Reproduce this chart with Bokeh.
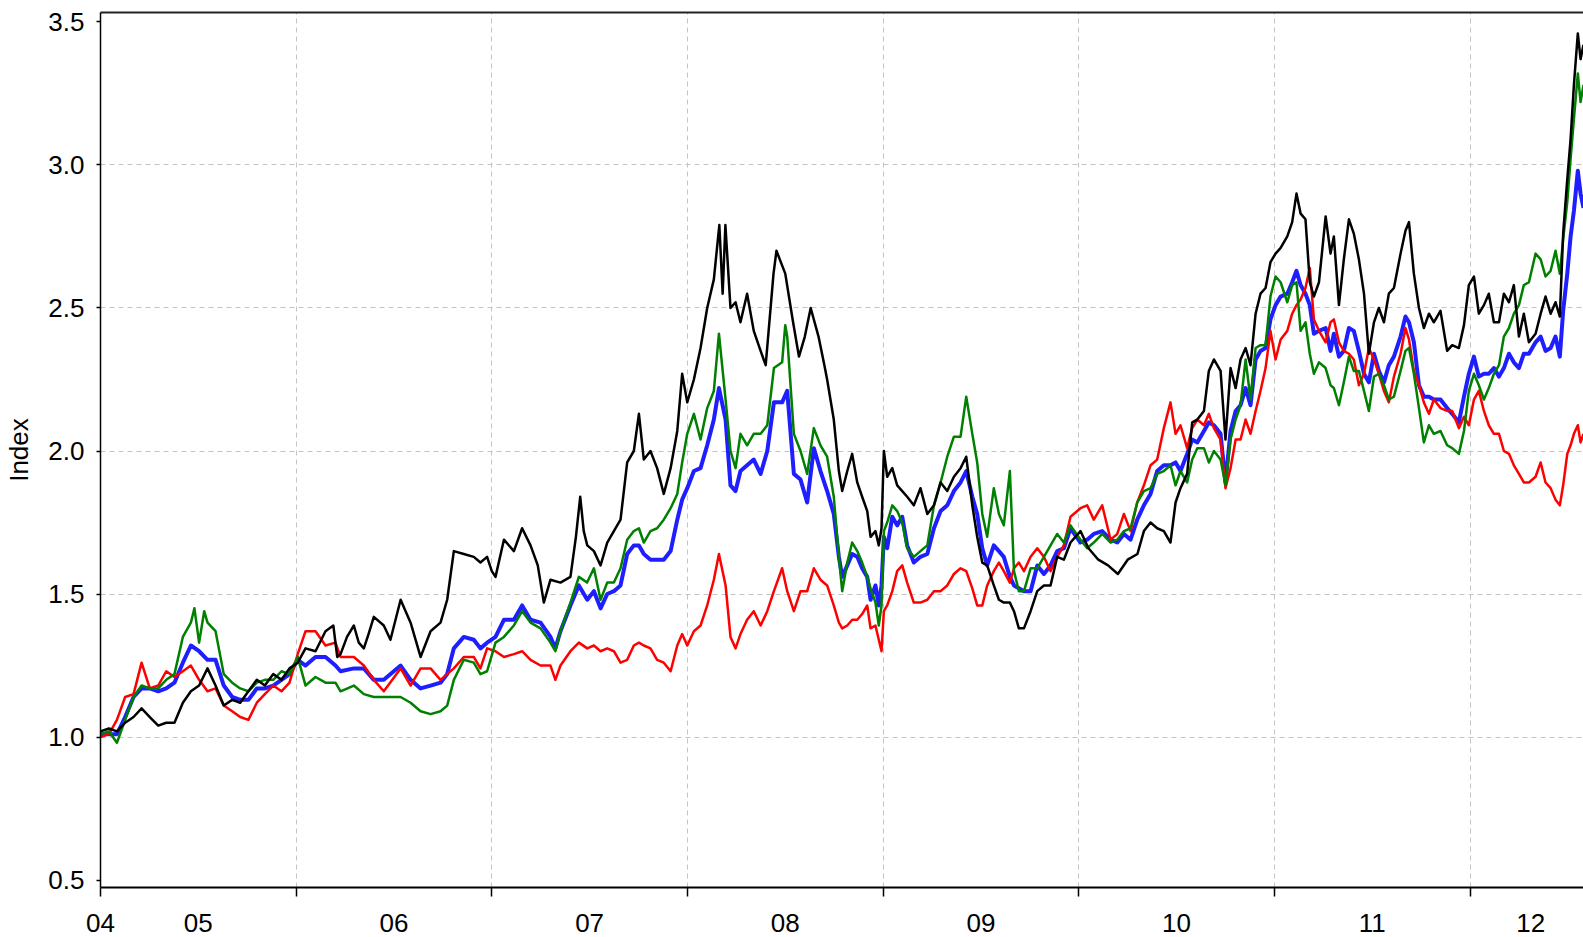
from bokeh.plotting import figure
from bokeh.models import FixedTicker, LinearAxis, Range1d
from bokeh.embed import file_html
from bokeh.resources import INLINE

# ---- axis definitions ----
year_starts = [2005, 2006, 2007, 2008, 2009, 2010, 2011, 2012]
x_label_pos = [2005.0, 2005.5, 2006.5, 2007.5, 2008.5, 2009.5, 2010.5, 2011.5, 2012.31]
x_tick_labels = ["04", "05", "06", "07", "08", "09", "10", "11", "12"]
y_ticks = [0.5, 1.0, 1.5, 2.0, 2.5, 3.0, 3.5]
y_tick_labels = ["0.5", "1.0", "1.5", "2.0", "2.5", "3.0", "3.5"]
y_grid = [1.0, 1.5, 2.0, 2.5, 3.0]

# ---- series (decimal year, index value) ----
black_pts = [
    (2005.000, 1.02), (2005.043, 1.03), (2005.084, 1.02), (2005.126, 1.05), (2005.169, 1.07),
    (2005.210, 1.10), (2005.252, 1.07), (2005.295, 1.04), (2005.336, 1.05), (2005.378, 1.05),
    (2005.421, 1.12), (2005.462, 1.16), (2005.504, 1.18), (2005.547, 1.24), (2005.588, 1.18),
    (2005.630, 1.11), (2005.673, 1.13), (2005.714, 1.12), (2005.756, 1.16), (2005.799, 1.20),
    (2005.840, 1.18), (2005.883, 1.22), (2005.925, 1.20), (2005.966, 1.24), (2006.008, 1.26),
    (2006.048, 1.31), (2006.099, 1.30), (2006.150, 1.37), (2006.190, 1.39), (2006.210, 1.28),
    (2006.227, 1.29), (2006.260, 1.35), (2006.295, 1.39), (2006.320, 1.33), (2006.346, 1.31),
    (2006.370, 1.36), (2006.397, 1.42), (2006.448, 1.39), (2006.482, 1.34), (2006.534, 1.48),
    (2006.585, 1.40), (2006.636, 1.28), (2006.687, 1.37), (2006.738, 1.40), (2006.772, 1.48),
    (2006.806, 1.65), (2006.857, 1.64), (2006.908, 1.63), (2006.942, 1.61), (2006.976, 1.63),
    (2007.000, 1.58), (2007.019, 1.56), (2007.062, 1.69), (2007.113, 1.65), (2007.155, 1.73),
    (2007.198, 1.67), (2007.235, 1.60), (2007.266, 1.47), (2007.300, 1.55), (2007.351, 1.54),
    (2007.402, 1.56), (2007.430, 1.70), (2007.452, 1.84), (2007.470, 1.72), (2007.488, 1.67),
    (2007.522, 1.65), (2007.556, 1.60), (2007.590, 1.68), (2007.624, 1.72), (2007.658, 1.76),
    (2007.692, 1.96), (2007.726, 2.00), (2007.752, 2.13), (2007.777, 1.97), (2007.811, 2.00),
    (2007.845, 1.94), (2007.879, 1.85), (2007.914, 1.94), (2007.948, 2.07), (2007.973, 2.27),
    (2007.999, 2.17), (2008.033, 2.25), (2008.067, 2.36), (2008.101, 2.50), (2008.135, 2.60),
    (2008.163, 2.79), (2008.180, 2.55), (2008.194, 2.79), (2008.220, 2.50), (2008.246, 2.52),
    (2008.271, 2.45), (2008.305, 2.55), (2008.339, 2.42), (2008.374, 2.35), (2008.400, 2.30),
    (2008.440, 2.62), (2008.455, 2.70), (2008.500, 2.62), (2008.540, 2.45), (2008.570, 2.33),
    (2008.600, 2.40), (2008.630, 2.50), (2008.670, 2.40), (2008.700, 2.30), (2008.714, 2.25),
    (2008.748, 2.11), (2008.774, 1.93), (2008.791, 1.86), (2008.817, 1.93), (2008.842, 1.99),
    (2008.868, 1.89), (2008.893, 1.84), (2008.919, 1.79), (2008.936, 1.70), (2008.961, 1.72),
    (2008.978, 1.67), (2008.992, 1.73), (2009.004, 2.00), (2009.021, 1.91), (2009.047, 1.94),
    (2009.072, 1.88), (2009.098, 1.86), (2009.123, 1.84), (2009.157, 1.81), (2009.191, 1.87),
    (2009.226, 1.78), (2009.260, 1.81), (2009.294, 1.89), (2009.328, 1.86), (2009.362, 1.91),
    (2009.396, 1.94), (2009.425, 1.98), (2009.456, 1.81), (2009.481, 1.70), (2009.507, 1.61),
    (2009.532, 1.60), (2009.566, 1.53), (2009.592, 1.48), (2009.617, 1.47), (2009.648, 1.47),
    (2009.669, 1.44), (2009.694, 1.38), (2009.720, 1.38), (2009.754, 1.44), (2009.788, 1.51),
    (2009.822, 1.53), (2009.856, 1.53), (2009.890, 1.63), (2009.924, 1.62), (2009.958, 1.68),
    (2010.009, 1.72), (2010.050, 1.66), (2010.100, 1.62), (2010.150, 1.60), (2010.200, 1.57),
    (2010.250, 1.62), (2010.300, 1.64), (2010.333, 1.72), (2010.367, 1.75), (2010.401, 1.73),
    (2010.435, 1.72), (2010.469, 1.68), (2010.495, 1.82), (2010.520, 1.87), (2010.554, 1.92),
    (2010.580, 2.10), (2010.606, 2.11), (2010.640, 2.14), (2010.665, 2.28), (2010.691, 2.32),
    (2010.725, 2.28), (2010.750, 2.04), (2010.776, 2.29), (2010.802, 2.22), (2010.827, 2.32),
    (2010.853, 2.36), (2010.878, 2.30), (2010.904, 2.48), (2010.929, 2.55), (2010.955, 2.57),
    (2010.980, 2.66), (2011.006, 2.69), (2011.032, 2.71), (2011.066, 2.75), (2011.091, 2.80),
    (2011.113, 2.90), (2011.134, 2.83), (2011.159, 2.81), (2011.181, 2.59), (2011.202, 2.54),
    (2011.228, 2.59), (2011.262, 2.82), (2011.287, 2.69), (2011.304, 2.75), (2011.330, 2.51),
    (2011.355, 2.67), (2011.381, 2.81), (2011.406, 2.76), (2011.432, 2.67), (2011.458, 2.55),
    (2011.483, 2.34), (2011.509, 2.45), (2011.534, 2.50), (2011.560, 2.45), (2011.585, 2.55),
    (2011.611, 2.57), (2011.645, 2.69), (2011.670, 2.77), (2011.688, 2.80), (2011.713, 2.62),
    (2011.739, 2.50), (2011.764, 2.43), (2011.790, 2.48), (2011.815, 2.45), (2011.849, 2.49),
    (2011.883, 2.35), (2011.909, 2.37), (2011.943, 2.36), (2011.969, 2.44), (2011.994, 2.58),
    (2012.020, 2.61), (2012.045, 2.48), (2012.071, 2.51), (2012.096, 2.55), (2012.122, 2.45),
    (2012.148, 2.45), (2012.173, 2.55), (2012.199, 2.52), (2012.224, 2.58), (2012.250, 2.40),
    (2012.275, 2.48), (2012.301, 2.38), (2012.335, 2.41), (2012.361, 2.48), (2012.386, 2.54),
    (2012.412, 2.48), (2012.437, 2.52), (2012.459, 2.47), (2012.476, 2.76), (2012.497, 2.95),
    (2012.514, 3.09), (2012.531, 3.28), (2012.551, 3.46), (2012.565, 3.37), (2012.580, 3.42),
]

red_pts = [
    (2005.000, 1.00), (2005.043, 1.01), (2005.084, 1.06), (2005.126, 1.14), (2005.169, 1.15),
    (2005.210, 1.26), (2005.252, 1.17), (2005.295, 1.18), (2005.336, 1.23), (2005.378, 1.21),
    (2005.421, 1.23), (2005.462, 1.25), (2005.504, 1.20), (2005.547, 1.16), (2005.588, 1.17),
    (2005.630, 1.11), (2005.673, 1.09), (2005.714, 1.07), (2005.756, 1.06), (2005.799, 1.12),
    (2005.840, 1.15), (2005.883, 1.18), (2005.925, 1.16), (2005.966, 1.19), (2006.008, 1.29),
    (2006.048, 1.37), (2006.099, 1.37), (2006.150, 1.32), (2006.201, 1.33), (2006.227, 1.28),
    (2006.295, 1.28), (2006.346, 1.25), (2006.397, 1.20), (2006.448, 1.16), (2006.534, 1.24),
    (2006.585, 1.18), (2006.636, 1.24), (2006.687, 1.24), (2006.738, 1.20), (2006.772, 1.22),
    (2006.806, 1.24), (2006.857, 1.28), (2006.908, 1.28), (2006.942, 1.24), (2006.976, 1.31),
    (2007.019, 1.30), (2007.062, 1.28), (2007.113, 1.29), (2007.155, 1.30), (2007.198, 1.27),
    (2007.249, 1.25), (2007.300, 1.25), (2007.325, 1.20), (2007.351, 1.25), (2007.402, 1.30),
    (2007.445, 1.33), (2007.488, 1.31), (2007.522, 1.32), (2007.556, 1.30), (2007.590, 1.31),
    (2007.624, 1.30), (2007.658, 1.26), (2007.692, 1.27), (2007.726, 1.32), (2007.752, 1.33),
    (2007.777, 1.32), (2007.811, 1.31), (2007.845, 1.27), (2007.879, 1.26), (2007.914, 1.23),
    (2007.948, 1.32), (2007.973, 1.36), (2007.999, 1.32), (2008.033, 1.37), (2008.067, 1.39),
    (2008.101, 1.46), (2008.135, 1.55), (2008.161, 1.64), (2008.195, 1.53), (2008.220, 1.35),
    (2008.246, 1.31), (2008.271, 1.36), (2008.305, 1.41), (2008.339, 1.44), (2008.374, 1.39),
    (2008.408, 1.44), (2008.442, 1.51), (2008.484, 1.59), (2008.510, 1.51), (2008.544, 1.44),
    (2008.578, 1.51), (2008.612, 1.51), (2008.646, 1.59), (2008.680, 1.55), (2008.714, 1.53),
    (2008.748, 1.46), (2008.774, 1.40), (2008.791, 1.38), (2008.817, 1.39), (2008.842, 1.41),
    (2008.868, 1.41), (2008.893, 1.43), (2008.919, 1.46), (2008.936, 1.38), (2008.961, 1.39),
    (2008.978, 1.34), (2008.992, 1.30), (2009.004, 1.44), (2009.021, 1.46), (2009.047, 1.51),
    (2009.072, 1.58), (2009.098, 1.60), (2009.123, 1.54), (2009.157, 1.47), (2009.191, 1.47),
    (2009.226, 1.48), (2009.260, 1.51), (2009.294, 1.51), (2009.328, 1.53), (2009.362, 1.57),
    (2009.396, 1.59), (2009.425, 1.58), (2009.456, 1.52), (2009.481, 1.46), (2009.507, 1.46),
    (2009.532, 1.53), (2009.566, 1.58), (2009.592, 1.61), (2009.617, 1.58), (2009.648, 1.54),
    (2009.669, 1.59), (2009.694, 1.61), (2009.720, 1.58), (2009.754, 1.63), (2009.788, 1.66),
    (2009.822, 1.63), (2009.856, 1.58), (2009.890, 1.63), (2009.924, 1.67), (2009.958, 1.77),
    (2010.009, 1.80), (2010.043, 1.81), (2010.077, 1.76), (2010.120, 1.81), (2010.163, 1.69),
    (2010.197, 1.71), (2010.231, 1.78), (2010.265, 1.72), (2010.299, 1.82), (2010.333, 1.88),
    (2010.367, 1.95), (2010.401, 1.97), (2010.435, 2.08), (2010.469, 2.17), (2010.495, 2.06),
    (2010.520, 2.09), (2010.554, 2.01), (2010.580, 2.08), (2010.606, 2.11), (2010.640, 2.09),
    (2010.665, 2.13), (2010.691, 2.08), (2010.725, 2.04), (2010.750, 1.87), (2010.776, 1.94),
    (2010.802, 2.04), (2010.827, 2.04), (2010.853, 2.11), (2010.878, 2.06), (2010.904, 2.14),
    (2010.929, 2.21), (2010.955, 2.29), (2010.980, 2.42), (2011.006, 2.32), (2011.032, 2.39),
    (2011.066, 2.42), (2011.091, 2.48), (2011.113, 2.51), (2011.134, 2.53), (2011.159, 2.57),
    (2011.181, 2.64), (2011.202, 2.46), (2011.228, 2.42), (2011.262, 2.38), (2011.287, 2.45),
    (2011.304, 2.46), (2011.330, 2.38), (2011.355, 2.35), (2011.381, 2.34), (2011.406, 2.32),
    (2011.432, 2.23), (2011.458, 2.27), (2011.483, 2.36), (2011.509, 2.32), (2011.534, 2.27),
    (2011.560, 2.21), (2011.585, 2.17), (2011.611, 2.26), (2011.645, 2.34), (2011.670, 2.43),
    (2011.688, 2.39), (2011.713, 2.28), (2011.739, 2.23), (2011.764, 2.17), (2011.790, 2.13),
    (2011.815, 2.18), (2011.849, 2.15), (2011.883, 2.14), (2011.909, 2.14), (2011.943, 2.08),
    (2011.969, 2.12), (2011.994, 2.09), (2012.020, 2.18), (2012.045, 2.21), (2012.071, 2.14),
    (2012.096, 2.09), (2012.122, 2.06), (2012.148, 2.06), (2012.173, 2.00), (2012.199, 1.99),
    (2012.224, 1.95), (2012.250, 1.92), (2012.275, 1.89), (2012.301, 1.89), (2012.335, 1.91),
    (2012.361, 1.96), (2012.386, 1.89), (2012.412, 1.87), (2012.437, 1.83), (2012.459, 1.81),
    (2012.476, 1.88), (2012.497, 1.99), (2012.514, 2.02), (2012.531, 2.06), (2012.551, 2.09),
    (2012.565, 2.03), (2012.580, 2.06),
]

blue_pts = [
    (2005.000, 1.01), (2005.043, 1.01), (2005.084, 1.01), (2005.126, 1.07), (2005.169, 1.14),
    (2005.210, 1.17), (2005.252, 1.17), (2005.295, 1.16), (2005.336, 1.17), (2005.378, 1.19),
    (2005.421, 1.26), (2005.462, 1.32), (2005.504, 1.30), (2005.547, 1.27), (2005.588, 1.27),
    (2005.630, 1.18), (2005.673, 1.14), (2005.714, 1.13), (2005.756, 1.13), (2005.799, 1.17),
    (2005.840, 1.17), (2005.883, 1.18), (2005.925, 1.20), (2005.966, 1.22), (2006.008, 1.27),
    (2006.048, 1.25), (2006.099, 1.28), (2006.150, 1.28), (2006.201, 1.25), (2006.227, 1.23),
    (2006.295, 1.24), (2006.346, 1.24), (2006.397, 1.20), (2006.448, 1.20), (2006.534, 1.25),
    (2006.585, 1.20), (2006.636, 1.17), (2006.687, 1.18), (2006.738, 1.19), (2006.772, 1.22),
    (2006.806, 1.31), (2006.857, 1.35), (2006.908, 1.34), (2006.942, 1.31), (2006.976, 1.33),
    (2007.019, 1.35), (2007.062, 1.41), (2007.113, 1.41), (2007.155, 1.46), (2007.198, 1.41),
    (2007.249, 1.40), (2007.300, 1.35), (2007.325, 1.31), (2007.351, 1.37), (2007.402, 1.46),
    (2007.445, 1.53), (2007.488, 1.48), (2007.522, 1.51), (2007.556, 1.45), (2007.590, 1.50),
    (2007.624, 1.51), (2007.658, 1.53), (2007.692, 1.64), (2007.726, 1.67), (2007.752, 1.67),
    (2007.777, 1.64), (2007.811, 1.62), (2007.845, 1.62), (2007.879, 1.62), (2007.914, 1.65),
    (2007.948, 1.76), (2007.973, 1.83), (2007.999, 1.87), (2008.033, 1.93), (2008.067, 1.94),
    (2008.101, 2.02), (2008.135, 2.11), (2008.161, 2.22), (2008.195, 2.11), (2008.220, 1.88),
    (2008.246, 1.86), (2008.271, 1.93), (2008.305, 1.95), (2008.339, 1.97), (2008.374, 1.92),
    (2008.408, 2.00), (2008.442, 2.17), (2008.484, 2.17), (2008.510, 2.21), (2008.544, 1.92),
    (2008.578, 1.90), (2008.612, 1.82), (2008.646, 2.01), (2008.680, 1.93), (2008.714, 1.86),
    (2008.748, 1.78), (2008.774, 1.63), (2008.791, 1.56), (2008.817, 1.60), (2008.842, 1.64),
    (2008.868, 1.63), (2008.893, 1.59), (2008.919, 1.56), (2008.936, 1.48), (2008.961, 1.53),
    (2008.978, 1.46), (2008.992, 1.53), (2009.004, 1.70), (2009.021, 1.66), (2009.047, 1.77),
    (2009.072, 1.74), (2009.098, 1.77), (2009.123, 1.67), (2009.157, 1.61), (2009.191, 1.63),
    (2009.226, 1.64), (2009.260, 1.73), (2009.294, 1.79), (2009.328, 1.81), (2009.362, 1.86),
    (2009.396, 1.89), (2009.425, 1.93), (2009.456, 1.84), (2009.481, 1.78), (2009.507, 1.66),
    (2009.532, 1.60), (2009.566, 1.67), (2009.592, 1.65), (2009.617, 1.63), (2009.648, 1.56),
    (2009.669, 1.53), (2009.694, 1.52), (2009.720, 1.51), (2009.754, 1.51), (2009.788, 1.60),
    (2009.822, 1.57), (2009.856, 1.60), (2009.890, 1.65), (2009.924, 1.66), (2009.958, 1.73),
    (2010.009, 1.68), (2010.043, 1.69), (2010.077, 1.71), (2010.120, 1.72), (2010.163, 1.69),
    (2010.197, 1.68), (2010.231, 1.71), (2010.265, 1.69), (2010.299, 1.76), (2010.333, 1.81),
    (2010.367, 1.85), (2010.401, 1.93), (2010.435, 1.95), (2010.469, 1.95), (2010.495, 1.96),
    (2010.520, 1.93), (2010.554, 1.99), (2010.580, 2.04), (2010.606, 2.03), (2010.640, 2.07),
    (2010.665, 2.10), (2010.691, 2.09), (2010.725, 2.06), (2010.750, 1.89), (2010.776, 2.07),
    (2010.802, 2.14), (2010.827, 2.16), (2010.853, 2.22), (2010.878, 2.16), (2010.904, 2.32),
    (2010.929, 2.35), (2010.955, 2.36), (2010.980, 2.46), (2011.006, 2.51), (2011.032, 2.54),
    (2011.066, 2.55), (2011.091, 2.59), (2011.113, 2.63), (2011.134, 2.58), (2011.159, 2.55),
    (2011.181, 2.51), (2011.202, 2.41), (2011.228, 2.42), (2011.262, 2.43), (2011.287, 2.35),
    (2011.304, 2.41), (2011.330, 2.33), (2011.355, 2.35), (2011.381, 2.43), (2011.406, 2.42),
    (2011.432, 2.35), (2011.458, 2.27), (2011.483, 2.24), (2011.509, 2.34), (2011.534, 2.28),
    (2011.560, 2.24), (2011.585, 2.30), (2011.611, 2.33), (2011.645, 2.40), (2011.670, 2.47),
    (2011.688, 2.45), (2011.713, 2.38), (2011.739, 2.23), (2011.764, 2.19), (2011.790, 2.19),
    (2011.815, 2.18), (2011.849, 2.18), (2011.883, 2.15), (2011.909, 2.13), (2011.943, 2.10),
    (2011.969, 2.19), (2011.994, 2.27), (2012.020, 2.33), (2012.045, 2.26), (2012.071, 2.27),
    (2012.096, 2.27), (2012.122, 2.29), (2012.148, 2.26), (2012.173, 2.29), (2012.199, 2.34),
    (2012.224, 2.31), (2012.250, 2.29), (2012.275, 2.34), (2012.301, 2.34), (2012.335, 2.38),
    (2012.361, 2.40), (2012.386, 2.35), (2012.412, 2.36), (2012.437, 2.40), (2012.459, 2.33),
    (2012.476, 2.49), (2012.497, 2.62), (2012.514, 2.75), (2012.531, 2.84), (2012.551, 2.98),
    (2012.565, 2.90), (2012.580, 2.85),
]

green_pts = [
    (2005.000, 1.01), (2005.043, 1.02), (2005.084, 0.98), (2005.126, 1.06), (2005.169, 1.14),
    (2005.210, 1.18), (2005.252, 1.17), (2005.295, 1.17), (2005.336, 1.20), (2005.378, 1.22),
    (2005.421, 1.35), (2005.462, 1.40), (2005.480, 1.45), (2005.504, 1.33), (2005.530, 1.44),
    (2005.547, 1.40), (2005.588, 1.37), (2005.630, 1.22), (2005.673, 1.19), (2005.714, 1.17),
    (2005.756, 1.16), (2005.799, 1.19), (2005.840, 1.20), (2005.883, 1.20), (2005.925, 1.23),
    (2005.966, 1.22), (2006.008, 1.28), (2006.048, 1.18), (2006.099, 1.21), (2006.150, 1.19),
    (2006.201, 1.19), (2006.227, 1.16), (2006.295, 1.18), (2006.346, 1.15), (2006.397, 1.14),
    (2006.448, 1.14), (2006.534, 1.14), (2006.585, 1.12), (2006.636, 1.09), (2006.687, 1.08),
    (2006.738, 1.09), (2006.772, 1.11), (2006.806, 1.20), (2006.857, 1.27), (2006.908, 1.26),
    (2006.942, 1.22), (2006.976, 1.23), (2007.019, 1.33), (2007.062, 1.35), (2007.113, 1.39),
    (2007.155, 1.44), (2007.198, 1.40), (2007.249, 1.38), (2007.300, 1.33), (2007.325, 1.30),
    (2007.351, 1.37), (2007.402, 1.47), (2007.445, 1.56), (2007.487, 1.54), (2007.522, 1.59),
    (2007.556, 1.48), (2007.590, 1.54), (2007.624, 1.54), (2007.658, 1.59), (2007.692, 1.69),
    (2007.726, 1.72), (2007.752, 1.73), (2007.777, 1.68), (2007.811, 1.72), (2007.845, 1.73),
    (2007.879, 1.76), (2007.914, 1.80), (2007.948, 1.85), (2007.973, 1.96), (2007.999, 2.06),
    (2008.033, 2.13), (2008.067, 2.04), (2008.101, 2.15), (2008.135, 2.21), (2008.161, 2.41),
    (2008.195, 2.18), (2008.220, 2.00), (2008.246, 1.94), (2008.271, 2.06), (2008.305, 2.02),
    (2008.339, 2.06), (2008.374, 2.06), (2008.408, 2.09), (2008.442, 2.29), (2008.484, 2.31),
    (2008.500, 2.44), (2008.510, 2.40), (2008.544, 2.06), (2008.578, 2.00), (2008.612, 1.92),
    (2008.646, 2.08), (2008.680, 2.02), (2008.714, 1.98), (2008.748, 1.84), (2008.774, 1.63),
    (2008.791, 1.51), (2008.817, 1.61), (2008.842, 1.68), (2008.868, 1.65), (2008.893, 1.61),
    (2008.919, 1.56), (2008.936, 1.52), (2008.961, 1.47), (2008.978, 1.39), (2008.992, 1.46),
    (2009.004, 1.72), (2009.021, 1.75), (2009.047, 1.81), (2009.072, 1.79), (2009.098, 1.75),
    (2009.123, 1.66), (2009.157, 1.63), (2009.191, 1.65), (2009.226, 1.67), (2009.260, 1.81),
    (2009.294, 1.89), (2009.328, 1.98), (2009.362, 2.05), (2009.396, 2.05), (2009.425, 2.19),
    (2009.456, 2.06), (2009.481, 1.96), (2009.507, 1.78), (2009.532, 1.70), (2009.566, 1.87),
    (2009.592, 1.78), (2009.617, 1.74), (2009.648, 1.93), (2009.669, 1.58), (2009.694, 1.51),
    (2009.720, 1.51), (2009.754, 1.59), (2009.788, 1.59), (2009.822, 1.63), (2009.856, 1.67),
    (2009.890, 1.71), (2009.924, 1.68), (2009.958, 1.74), (2010.009, 1.69), (2010.043, 1.66),
    (2010.077, 1.68), (2010.120, 1.71), (2010.163, 1.68), (2010.197, 1.69), (2010.231, 1.72),
    (2010.265, 1.73), (2010.299, 1.82), (2010.333, 1.86), (2010.367, 1.87), (2010.401, 1.92),
    (2010.435, 1.93), (2010.469, 1.95), (2010.495, 1.88), (2010.520, 1.93), (2010.554, 1.89),
    (2010.580, 1.97), (2010.606, 2.01), (2010.640, 2.01), (2010.665, 1.96), (2010.691, 2.00),
    (2010.725, 1.97), (2010.750, 1.88), (2010.776, 2.04), (2010.802, 2.11), (2010.827, 2.16),
    (2010.853, 2.32), (2010.878, 2.18), (2010.904, 2.36), (2010.929, 2.37), (2010.955, 2.37),
    (2010.980, 2.54), (2011.006, 2.61), (2011.032, 2.59), (2011.066, 2.52), (2011.091, 2.58),
    (2011.113, 2.59), (2011.134, 2.42), (2011.159, 2.45), (2011.181, 2.34), (2011.202, 2.27),
    (2011.228, 2.31), (2011.262, 2.29), (2011.287, 2.23), (2011.304, 2.22), (2011.330, 2.16),
    (2011.355, 2.24), (2011.381, 2.33), (2011.406, 2.28), (2011.432, 2.28), (2011.458, 2.21),
    (2011.483, 2.14), (2011.509, 2.26), (2011.534, 2.27), (2011.560, 2.23), (2011.585, 2.18),
    (2011.611, 2.19), (2011.645, 2.28), (2011.670, 2.35), (2011.688, 2.36), (2011.713, 2.27),
    (2011.739, 2.15), (2011.764, 2.03), (2011.790, 2.09), (2011.815, 2.06), (2011.849, 2.07),
    (2011.883, 2.02), (2011.909, 2.01), (2011.943, 1.99), (2011.969, 2.07), (2011.994, 2.21),
    (2012.020, 2.27), (2012.045, 2.23), (2012.071, 2.18), (2012.096, 2.22), (2012.122, 2.27),
    (2012.148, 2.30), (2012.173, 2.40), (2012.199, 2.43), (2012.224, 2.48), (2012.250, 2.51),
    (2012.275, 2.58), (2012.301, 2.59), (2012.335, 2.69), (2012.361, 2.67), (2012.386, 2.61),
    (2012.412, 2.63), (2012.437, 2.70), (2012.459, 2.62), (2012.476, 2.74), (2012.497, 2.87),
    (2012.514, 3.02), (2012.531, 3.16), (2012.551, 3.32), (2012.565, 3.22), (2012.580, 3.28),
]

FONT = "Liberation Sans"

p = figure(frame_width=1483, frame_height=875,
           x_range=Range1d(2005.0, 2012.58), y_range=Range1d(0.474, 3.533),
           output_backend="svg", toolbar_location=None,
           min_border_left=100, min_border_right=0, min_border_top=12, min_border_bottom=50)
p.outline_line_color = None
p.background_fill_color = "white"
p.border_fill_color = "white"

# x axis: labels centred within years, tick marks at year starts (minor ticks)
xa = p.xaxis[0]
xa.ticker = FixedTicker(ticks=x_label_pos, minor_ticks=year_starts)
xa.major_label_overrides = {pos: lab for pos, lab in zip(x_label_pos, x_tick_labels)}
xa.major_tick_out = 0
xa.major_tick_in = 0
xa.minor_tick_out = 9
xa.minor_tick_in = 0
xa.minor_tick_line_color = "black"
xa.minor_tick_line_width = 1.5
xa.axis_line_color = "black"
xa.axis_line_width = 2
xa.major_label_standoff = 17
xa.major_label_text_font = FONT
xa.major_label_text_font_size = "26px"
xa.major_label_text_color = "black"

ya = p.yaxis[0]
ya.ticker = FixedTicker(ticks=y_ticks, minor_ticks=[])
ya.major_label_overrides = {v: lab for v, lab in zip(y_ticks, y_tick_labels)}
ya.major_tick_out = 4
ya.major_tick_in = 0
ya.minor_tick_out = 0
ya.minor_tick_in = 0
ya.major_tick_line_color = "black"
ya.major_tick_line_width = 1.5
ya.axis_line_color = "black"
ya.axis_line_width = 1.5
ya.major_label_standoff = 12
ya.major_label_text_font = FONT
ya.major_label_text_font_size = "26px"
ya.major_label_text_color = "black"
ya.axis_label = "Index"
ya.axis_label_text_font = FONT
ya.axis_label_text_font_size = "26px"
ya.axis_label_text_font_style = "normal"
ya.axis_label_text_color = "black"
ya.axis_label_standoff = 11

top = LinearAxis(ticker=FixedTicker(ticks=[]), major_tick_out=0, major_tick_in=0,
                 minor_tick_out=0, minor_tick_in=0, major_label_text_font_size="0px",
                 major_label_standoff=0, axis_line_width=2, axis_line_color="#222222")
p.add_layout(top, "above")

p.xgrid[0].ticker = FixedTicker(ticks=year_starts[1:])
p.ygrid[0].ticker = FixedTicker(ticks=y_grid)
for g in (p.xgrid[0], p.ygrid[0]):
    g.grid_line_color = "#c4c4c4"
    g.grid_line_dash = "5 4"
    g.grid_line_width = 1

series = [
    (blue_pts, "#1e1eff", 4.0),
    (red_pts, "#ff0000", 2.5),
    (green_pts, "#008000", 2.5),
    (black_pts, "#000000", 2.5),
]
for pts, col, w in series:
    xs = [t for t, _ in pts]
    ys = [v for _, v in pts]
    p.line(xs, ys, line_color=col, line_width=w, line_join="round")

open("out.html", "w").write(file_html(p, INLINE))
